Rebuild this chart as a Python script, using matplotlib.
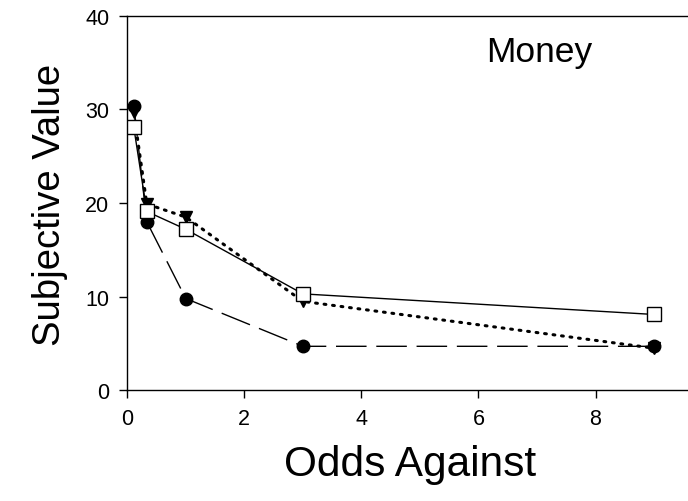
import matplotlib
matplotlib.use("Agg")
import matplotlib.pyplot as plt

odds = [1/9, 1/3, 1, 3, 9]
circles = [30.4, 18.0, 9.8, 4.7, 4.7]
triangles = [29.7, 19.9, 18.5, 9.5, 4.5]
squares = [28.1, 19.1, 17.2, 10.3, 8.1]

xticks = [0, 2, 4, 6, 8]
yticks = [0, 10, 20, 30, 40]

plt.rcParams['font.family'] = ['Liberation Sans', 'DejaVu Sans']

fig = plt.figure(figsize=(6.88, 5.02), dpi=100)
ax = fig.add_axes([0.185, 0.2205, 0.815, 0.746])

ax.plot(odds, circles, color='black', lw=1, dashes=(22, 7),
        marker='o', ms=9, mfc='black', mec='black', zorder=3)
ax.plot(odds, triangles, color='black', lw=2.2, linestyle=(0, (0.6, 2.2)),
        dash_capstyle='round',
        marker='v', ms=9, mfc='black', mec='black', zorder=4)
ax.plot(odds, squares, color='black', lw=1, linestyle='-',
        marker='s', ms=10, mfc='white', mec='black', mew=1, zorder=5)

ax.set_xlim(0, 9.58)
ax.set_ylim(0, 40)
ax.set_xticks(xticks)
ax.set_yticks(yticks)
ax.tick_params(direction='out', length=6, width=1, labelsize=15.5, pad=7)
ax.spines['right'].set_visible(False)
for s in ['left', 'bottom', 'top']:
    ax.spines[s].set_linewidth(1)

ax.set_xlabel('Odds Against', fontsize=30.5)
ax.set_ylabel('Subjective Value', fontsize=27.5)
ax.xaxis.set_label_coords(0.504, -0.198)
ax.yaxis.set_label_coords(-0.137, 0.497)
ax.xaxis.label.set_va('center')
ax.yaxis.label.set_va('center')
ax.text(0.64, 0.906, 'Money', transform=ax.transAxes, fontsize=25.5,
        ha='left', va='center')

fig.savefig('out.png', dpi=100)
